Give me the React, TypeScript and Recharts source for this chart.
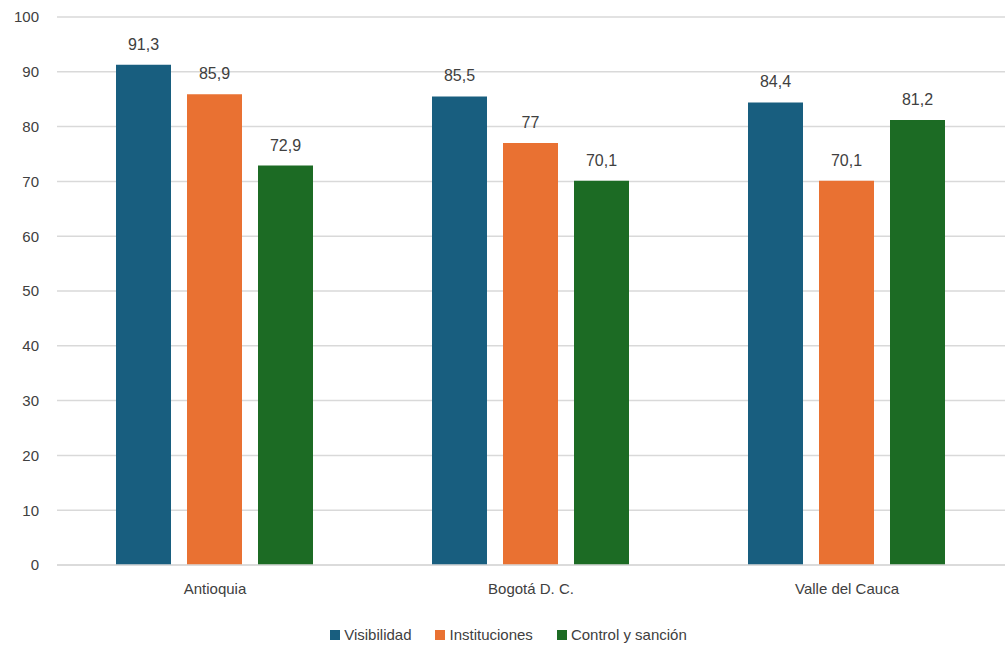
import React from "react";
import { BarChart, Bar, XAxis, YAxis, CartesianGrid, LabelList, Legend } from "recharts";

const categories = ["Antioquia", "Bogotá D. C.", "Valle del Cauca"];
const visibilidad = [91.3, 85.5, 84.4];
const instituciones = [85.9, 77, 70.1];
const control = [72.9, 70.1, 81.2];
const yTicks = [0, 10, 20, 30, 40, 50, 60, 70, 80, 90, 100];

const series = [
  { key: "visibilidad", name: "Visibilidad", color: "#185E7F" },
  { key: "instituciones", name: "Instituciones", color: "#E97132" },
  { key: "control", name: "Control y sanción", color: "#1C6B24" },
];

const data = categories.map((c, i) => ({
  name: c,
  visibilidad: visibilidad[i],
  instituciones: instituciones[i],
  control: control[i],
}));

const FONT = "'Liberation Sans Narrow', 'Arial Narrow', 'Liberation Sans', Arial, sans-serif";

const fmt = (v: any) => String(v).replace(".", ",");

const LegendContent = () => (
  <div style={{ display: "flex", justifyContent: "center", fontFamily: FONT, fontSize: 15, color: "#404040", paddingTop: 16, paddingLeft: 12 }}>
    {series.map((s) => (
      <div key={s.key} style={{ display: "flex", alignItems: "center", margin: "0 12px" }}>
        <span style={{ width: 10, height: 10, background: s.color, display: "inline-block", marginRight: 4 }} />
        <span>{s.name}</span>
      </div>
    ))}
  </div>
);

export default function App() {
  return (
    <div style={{ position: "absolute", left: 0, top: 0, width: 1005, height: 652, background: "#fff" }}>
      <BarChart
        width={1005}
        height={652}
        data={data}
        margin={{ top: 17, right: 0, left: 0, bottom: 0 }}
        barGap={16}
        barCategoryGap={59}
      >
        <CartesianGrid vertical={false} stroke="#d9d9d9" strokeWidth={1.5} />
        <XAxis
          dataKey="name"
          axisLine={{ stroke: "#d9d9d9", strokeWidth: 1.5 }}
          tickLine={false}
          tick={{ fill: "#404040", fontSize: 15, fontFamily: FONT }}
          tickMargin={12}
          height={45}
        />
        <YAxis
          domain={[0, 100]}
          ticks={yTicks}
          axisLine={false}
          tickLine={false}
          width={57}
          tick={{ fill: "#404040", fontSize: 15, fontFamily: FONT }}
          tickMargin={12}
        />
        <Legend verticalAlign="bottom" height={42} content={<LegendContent />} />
        {series.map((s) => (
          <Bar key={s.key} dataKey={s.key} name={s.name} fill={s.color} isAnimationActive={false}>
            <LabelList
              dataKey={s.key}
              position="top"
              offset={15}
              formatter={fmt}
              style={{ fill: "#404040", fontSize: 16, fontFamily: FONT }}
            />
          </Bar>
        ))}
      </BarChart>
    </div>
  );
}
